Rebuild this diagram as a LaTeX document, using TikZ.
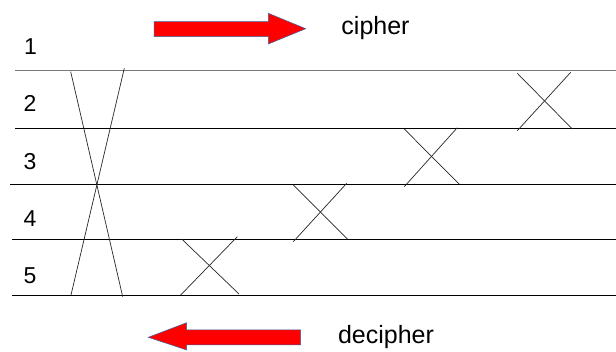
\documentclass[tikz,border=0pt]{standalone}
\usepackage{fontspec}
\setmainfont{Liberation Sans}
\definecolor{arrowred}{RGB}{255,0,0}
\definecolor{arrowedge}{RGB}{52,101,164}
\definecolor{linegray}{RGB}{120,120,120}
\begin{document}
\begin{tikzpicture}[x=1pt,y=-1pt,
  railline/.style={line width=0.8pt,black},
  crossline/.style={line width=0.7pt,black!85},
  bigarrow/.style={fill=arrowred,draw=arrowedge,line width=0.5pt},
  numlabel/.style={anchor=base,inner sep=0pt,font=\fontsize{23}{27}\selectfont},
  wordlabel/.style={anchor=base,inner sep=0pt,font=\fontsize{25}{30}\selectfont}]
\useasboundingbox (0,0) rectangle (616,352);
% rail lines
\draw[railline,draw=linegray] (15,70) -- (616,70);
\draw[railline] (15,128.3) -- (616,128.3);
\draw[railline] (10,184.5) -- (616,184.5);
\draw[railline] (12,239.2) -- (616,239.2);
\draw[railline] (12,295.3) -- (616,295.3);
% big X
\coordinate (bigA1) at (70.7,71.7);
\coordinate (bigA2) at (122.7,296.7);
\coordinate (bigB1) at (124.3,68.3);
\coordinate (bigB2) at (71,295);
\draw[crossline] (bigA1) -- (bigA2);
\draw[crossline] (bigB1) -- (bigB2);
% small X's
\draw[crossline] (181.7,239) -- (239,294);
\draw[crossline] (180.7,295) -- (237.3,236.7);
\draw[crossline] (293.3,185) -- (347.7,239.3);
\draw[crossline] (293.3,241.7) -- (346.7,183.3);
\draw[crossline] (404.3,129) -- (459.3,184.3);
\draw[crossline] (404.3,186.7) -- (457.3,127.7);
\draw[crossline] (517.3,73.3) -- (572.3,129);
\draw[crossline] (517.3,130.7) -- (570.7,72.3);
% arrows
\draw[bigarrow] (154,21.7) -- (268.3,21.7) -- (268.3,13.3) -- (305.7,28.7) -- (268.3,44) -- (268.3,36.7) -- (154,36.7) -- cycle;
\draw[bigarrow] (300.7,330) -- (186.7,330) -- (186.7,322.7) -- (148.3,337.3) -- (186.7,350) -- (186.7,345) -- (300.7,345) -- cycle;
% labels
\node[wordlabel] (cipher) at (375.5,35) {cipher};
\node[wordlabel] (decipher) at (386,343.3) {decipher};
\node[numlabel] (n1) at (30.5,55) {1};
\node[numlabel] (n2) at (30,111.7) {2};
\node[numlabel] (n3) at (30,169.3) {3};
\node[numlabel] (n4) at (30,226.7) {4};
\node[numlabel] (n5) at (30,283.3) {5};
\end{tikzpicture}
\end{document}
